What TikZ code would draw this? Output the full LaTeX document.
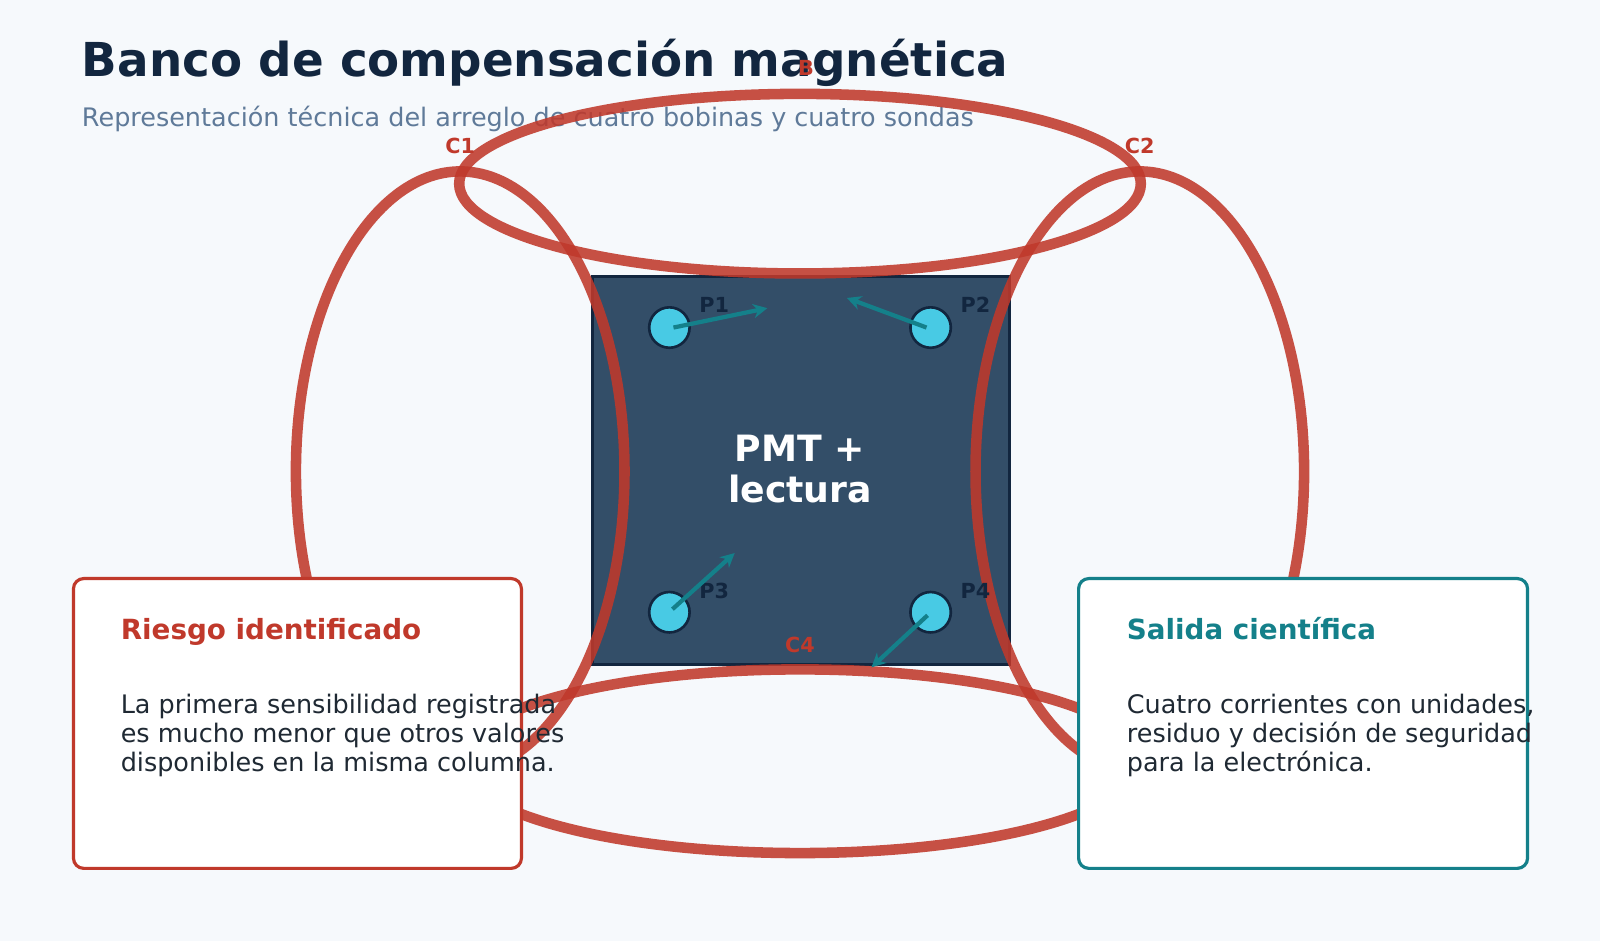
\documentclass[tikz,border=0pt]{standalone}
\usepackage{fontspec}
\setmainfont{DejaVu Sans}
\usetikzlibrary{arrows.meta}
\definecolor{ink}{HTML}{12263F}
\definecolor{sub}{HTML}{5F7A99}
\definecolor{coil}{HTML}{C0392B}
\definecolor{slate}{HTML}{334E68}
\definecolor{probe}{HTML}{48CAE4}
\definecolor{teal}{HTML}{14808A}
\definecolor{bg}{HTML}{F6F9FC}
\definecolor{body}{HTML}{1F2933}
\tikzset{
  coilring/.style={draw=coil,draw opacity=.88,line width=6pt},
  coillab/.style={text=coil,font=\fontsize{11.8}{13}\selectfont\bfseries},
  sonda/.style={circle,fill=probe,draw=ink,line width=1.5pt,minimum size=23pt,inner sep=0pt},
  sondalab/.style={text=ink,inner sep=0pt,font=\fontsize{11.8}{13}\selectfont\bfseries},
  campo/.style={-{Stealth[length=8pt,width=8pt]},draw=teal,line width=2.4pt},
  card/.style={draw,fill=white,line width=1.8pt,rounded corners=5.8pt},
  cardtitle/.style={anchor=base west,inner sep=0pt,font=\fontsize{15.8}{18}\selectfont\bfseries},
  cardbody/.style={anchor=north west,align=left,inner sep=0pt,text=body,font=\fontsize{14.5}{16.4}\selectfont}
}
\begin{document}
\begin{tikzpicture}[x=0.0204082cm,y=-0.0204082cm]
  \fill[bg] (0,0) rectangle (1568,922);
  \useasboundingbox (0,0) rectangle (1568,922);
  % titulo
  \node[anchor=base west,inner sep=0pt,text=ink,font=\fontsize{26.6}{30}\selectfont\bfseries] (titulo) at (80,75) {Banco de compensación magnética};
  \node[anchor=base west,inner sep=0pt,text=sub,font=\fontsize{14.5}{16}\selectfont] (subtitulo) at (80,124) {Representación técnica del arreglo de cuatro bobinas y cuatro sondas};
  % modulo central
  \node[draw=ink,fill=slate,line width=1.8pt,minimum width=237pt,minimum height=221pt,inner sep=0pt] (pmt) at (785,461) {};
  \node[text=white,align=center,font=\fontsize{20.6}{23.5}\selectfont\bfseries] (pmtlab) at (784,460) {PMT +\\lectura};
  % bobinas
  \draw[coilring] (451,462) ellipse [x radius=161,y radius=294];
  \draw[coilring] (1117,462) ellipse [x radius=161,y radius=294];
  \draw[coilring] (784,180) ellipse [x radius=334,y radius=88];
  \draw[coilring] (784,746) ellipse [x radius=334,y radius=90];
  \node[coillab] (c1) at (451,143) {C1};
  \node[coillab] (c2) at (1117,143) {C2};
  \node[coillab] (b) at (790,67) {B};
  \node[coillab] (c4) at (784,632) {C4};
  % sondas
  \node[sonda] (p1) at (656,321) {};
  \node[sonda] (p2) at (912,321) {};
  \node[sonda] (p3) at (656,600) {};
  \node[sonda] (p4) at (912,600) {};
  \node[sondalab,anchor=west] (p1lab) at (685,299) {P1};
  \node[sondalab,anchor=west] (p2lab) at (941,299) {P2};
  \node[sondalab,anchor=west] (p3lab) at (685,579) {P3};
  \node[sondalab,anchor=west] (p4lab) at (941,579) {P4};
  \coordinate (f1) at (752,302);
  \coordinate (f2) at (830,292);
  \coordinate (f3) at (720,542);
  \coordinate (f4) at (854,654);
  \draw[campo] (p1.center) ++(4,0) -- (f1);
  \draw[campo] (p2.center) ++(-4,0) -- (f2);
  \draw[campo] (p3.center) ++(3,-3) -- (f3);
  \draw[campo] (p4.center) ++(-3,3) -- (f4);
  % tarjetas
  \draw[card,draw=coil] (72,567) rectangle (511,851);
  \draw[card,draw=teal] (1057,567) rectangle (1497,851);
  \node[cardtitle,text=coil] (riesgo) at (118,627) {Riesgo identificado};
  \node[cardbody] (riesgotxt) at (118,680) {La primera sensibilidad registrada\\es mucho menor que otros valores\\disponibles en la misma columna.};
  \node[cardtitle,text=teal] (salida) at (1104,627) {Salida científica};
  \node[cardbody] (salidatxt) at (1104,680) {Cuatro corrientes con unidades,\\residuo y decisión de seguridad\\para la electrónica.};
\end{tikzpicture}
\end{document}
